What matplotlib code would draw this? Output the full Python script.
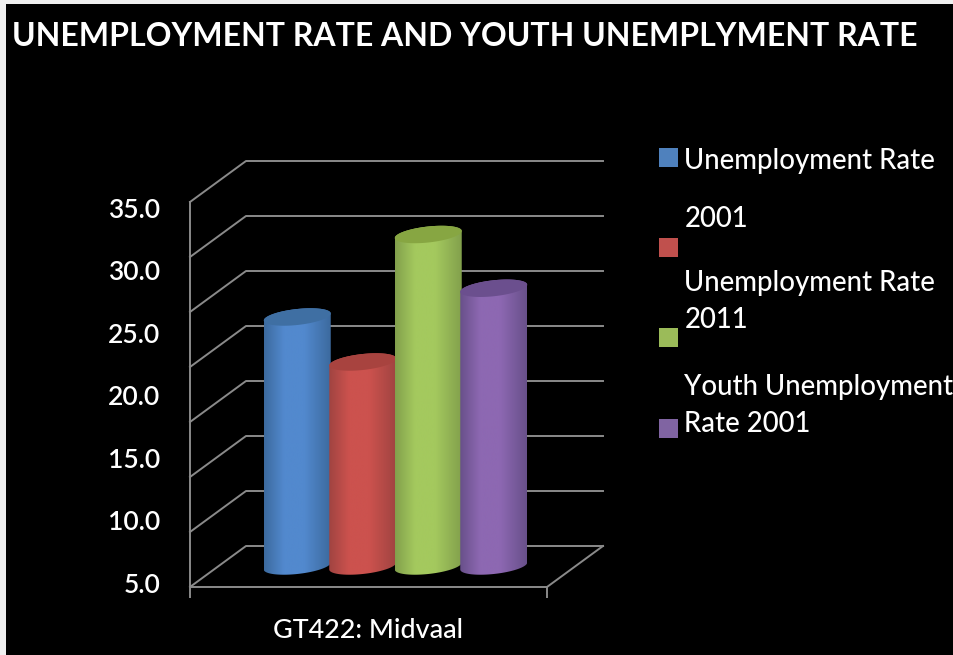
import numpy as np
import matplotlib
matplotlib.use('Agg')
import matplotlib.pyplot as plt
from matplotlib.colors import LinearSegmentedColormap
from matplotlib.patches import Polygon, Rectangle

W, H = 954, 655

title = 'UNEMPLOYMENT RATE AND YOUTH UNEMPLYMENT RATE'
category = 'GT422: Midvaal'
values = [24.6, 21.0, 31.2, 26.9]
y_ticks = [5, 10, 15, 20, 25, 30, 35]

# colours per cylinder: edge shade, middle shade, top cap, legend swatch
edge_cols = ['#3C6A9E', '#A04441', '#82A04C', '#68508A']
mid_cols = ['#5289CE', '#CC524E', '#A4C95E', '#8D68B2']
cap_cols = ['#3F6FA3', '#A8433F', '#87A642', '#6B4F8E']
swatch_cols = ['#4F81BD', '#C0504D', '#9BBB59', '#8064A2']

legend_lines = [('Unemployment Rate', 161), ('2001', 219), ('Unemployment Rate', 283),
                ('2011', 320), ('Youth Unemployment', 387), ('Rate 2001', 424)]
swatch_y = [148, 238, 328, 419]

plt.rcParams['font.family'] = ['Lato', 'DejaVu Sans']

fig = plt.figure(figsize=(W / 100, H / 100), dpi=100, facecolor='#f0f0f0')
fig.add_artist(Rectangle((6 / W, 0), 1, 1 - 4 / H, transform=fig.transFigure, fc='black', ec='none', zorder=-1))

# front plane of the chart box: x 190-547, y 202-587 in pixels
ax = fig.add_axes([190 / W, 1 - 587 / H, 357 / W, 385 / H], facecolor='none')
y_scale = 12.5  # pixels per percentage point
y_min = 5 - (587 - 583) / y_scale
y_max = 35 + (208 - 202) / y_scale
x_scale = 357.0  # pixels per unit of x
line_col = '#8a8a8a'

# depth of the box and of the bars, in data units
back_dx, back_dy = 56 / x_scale, 41 / y_scale
bar_dx, bar_dy = 27 / x_scale, 21 / y_scale

# walls and grid
for g in np.linspace(y_min, y_max, 8):
    ax.plot([-0.5, -0.5 + back_dx, 0.5 + back_dx], [g, g + back_dy, g + back_dy],
            color=line_col, lw=1.4, clip_on=False, zorder=1)
ax.plot([0.5, 0.5 + back_dx], [y_min, y_min + back_dy], color=line_col, lw=1.4, clip_on=False, zorder=1)

# cylinders
rx = 33.5 / x_scale
ry = 8 / y_scale
tilt = 3.5 / y_scale
spacing = 65.5 / x_scale
t = np.linspace(0, 2 * np.pi, 121)
base_y = y_min + bar_dy
for i, v in enumerate(values):
    cx = (i - 1.5) * spacing + bar_dx
    top = v + bar_dy
    ex = cx + rx * np.cos(t)
    cmap = LinearSegmentedColormap.from_list('shade', [
        (0.0, edge_cols[i]), (0.3, mid_cols[i]), (0.6, mid_cols[i]), (1.0, edge_cols[i])])
    grad = np.linspace(0, 1, 256).reshape(1, -1)
    img = ax.imshow(grad, cmap=cmap, extent=[cx - rx, cx + rx, base_y - 2, top + 2],
                    aspect='auto', zorder=2 + i)
    # outline of the body: along the lower half of the base, then up to the top end
    lower = (t >= np.pi)
    bx = ex[lower]
    by = base_y + ry * np.sin(t[lower]) + tilt * np.cos(t[lower])
    upper_x = ex[~lower]
    upper_y = top + ry * np.sin(t[~lower]) + tilt * np.cos(t[~lower])
    body = Polygon(np.column_stack([np.r_[bx, upper_x], np.r_[by, upper_y]]),
                   transform=ax.transData, fc='none', ec='none')
    ax.add_patch(body)
    img.set_clip_path(body)
    img.set_clip_on(True)
    ax.fill(ex, top + ry * np.sin(t) + tilt * np.cos(t), color=cap_cols[i], lw=0, zorder=2 + i)

ax.set_xlim(-0.5, 0.5)
ax.set_ylim(y_min, y_max)

# axes
for side in ['top', 'right']:
    ax.spines[side].set_visible(False)
for side in ['left', 'bottom']:
    ax.spines[side].set_color(line_col)
    ax.spines[side].set_linewidth(1.4)
ax.set_yticks(y_ticks)
ax.set_yticklabels(['%.1f' % y for y in y_ticks], color='white', fontsize=19, fontweight='semibold')
ax.tick_params(axis='y', length=0, pad=21.5)
ax.set_xticks([0])
ax.set_xticklabels([category], color='white', fontsize=19.4, fontweight='medium')
ax.tick_params(axis='x', length=0, pad=22)
ax.set_xticks([-0.5, 0.5], minor=True)
ax.tick_params(axis='x', which='minor', length=8, width=1.4, color=line_col)

fig.text(12 / W, 1 - 36 / H, title, color='white', fontsize=23.05, fontweight='bold', va='center', ha='left')

# legend, laid out by hand because the labels wrap around the swatches
for col, y in zip(swatch_cols, swatch_y):
    fig.add_artist(Rectangle((659 / W, 1 - (y + 19) / H), 19 / W, 19 / H, transform=fig.transFigure,
                             fc=col, ec='none'))
for txt, y in legend_lines:
    fig.text(684.5 / W, 1 - y / H, txt, color='white', fontsize=19.8, fontweight='medium', va='center', ha='left')

fig.savefig('out.png', dpi=100, facecolor=fig.get_facecolor())
